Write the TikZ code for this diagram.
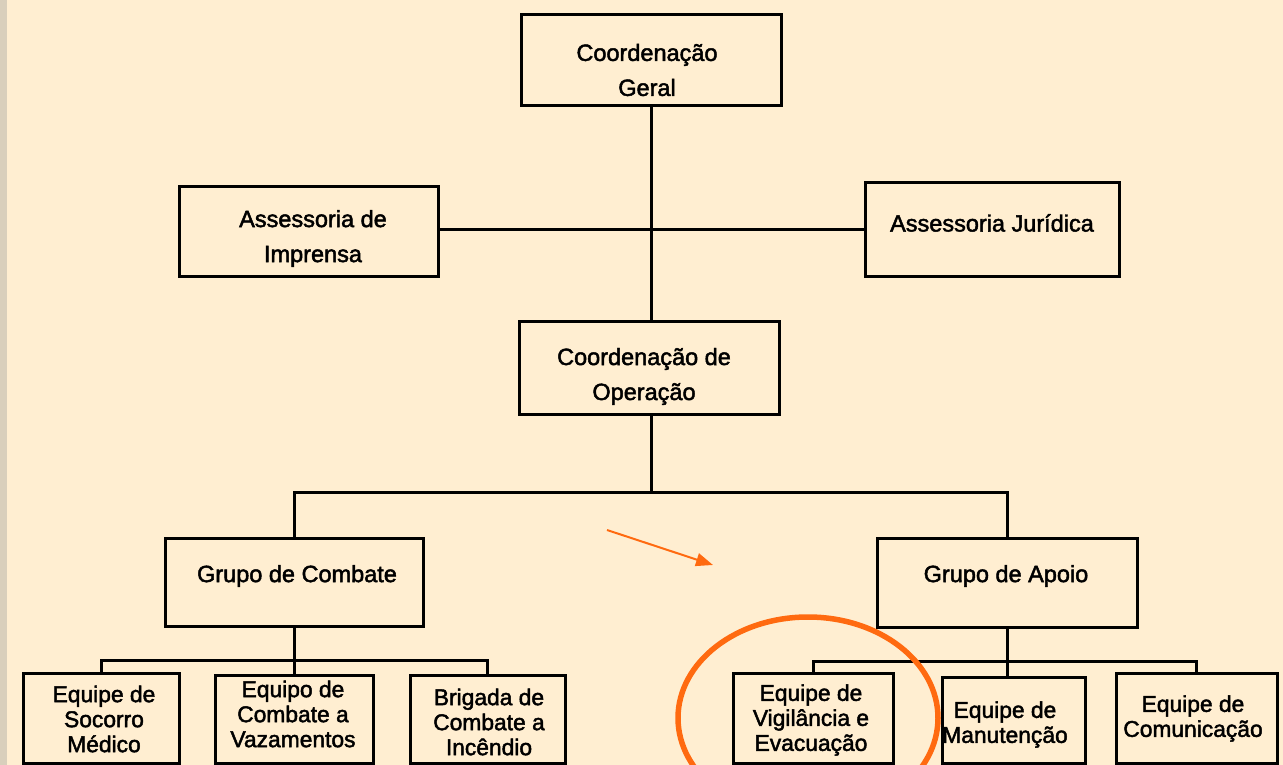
\documentclass[tikz,border=0pt]{standalone}
\usepackage{fontspec}
\setmainfont{Liberation Sans}
\newfontfamily\boxfont{Liberation Sans}[FakeBold=2]
\usetikzlibrary{arrows.meta}
\definecolor{bgc}{HTML}{FFEED1}
\definecolor{edgec}{HTML}{D9CFBC}
\definecolor{orng}{HTML}{FF6A10}
\tikzset{
  box/.style={draw=black, line width=3pt, inner sep=0pt},
  txt/.style={align=center, inner sep=0pt, font=\boxfont\fontsize{23.5}{25}\selectfont},
  txtb/.style={align=center, inner sep=0pt, font=\boxfont\fontsize{22.8}{25}\selectfont},
  conn/.style={line width=3pt, draw=black},
}
\newcommand{\boxat}[5]{\node[box, minimum width={#4-#2}, minimum height={#5-#3}] (#1) at ({(#2+#4)/2},{(#3+#5)/2}) {};}
\begin{document}
\begin{tikzpicture}[x=1pt,y=-1pt]
\useasboundingbox (0,0) rectangle (1283,765);
\clip (0,0) rectangle (1283,765);
\fill[bgc] (0,0) rectangle (1283,765);
\fill[edgec] (0,0) rectangle (7,765);
% boxes
\boxat{cg}{521}{15}{781}{106}
\boxat{ai}{179}{187}{438}{276}
\boxat{aj}{865}{183}{1119}{276}
\boxat{co}{519}{321}{779}{414}
\boxat{gc}{165}{538}{423}{626}
\boxat{ga}{877}{538}{1137}{627}
\boxat{es}{23}{673}{179}{763}
\boxat{ev}{215}{675}{373}{763}
\boxat{bc}{410}{675}{565}{763}
\boxat{vg}{733}{673}{893}{763}
\boxat{mn}{942}{677}{1085}{763}
\boxat{cm}{1116}{673}{1277}{763}
% texts
\node[txt] (tcg) at (647,70) {Coordenação\\[10pt]Geral};
\node[txt] (tai) at (313,238.5) {Assessoria de\\[10pt]Imprensa};
\node[txt] (taj) at (992,223) {Assessoria Jurídica};
\node[txt] (tco) at (644,376.5) {Coordenação de\\[10pt]Operação};
\node[txt] (tgc) at (297,576) {Grupo de Combate};
\node[txt] (tga) at (1006,576) {Grupo de Apoio};
\node[txtb] (tes) at (104,719) {Equipe de\\Socorro\\Médico};
\node[txtb] (tev) at (293,714) {Equipo de\\Combate a\\Vazamentos};
\node[txtb] (tbc) at (489,722) {Brigada de\\Combate a\\Incêndio};
\node[txtb] (tvg) at (811,720) {Equipe de\\Vigilância e\\Evacuação};
\node[txtb] (tmn) at (1005,724.5) {Equipe de\\Manutenção};
\node[txtb] (tcm) at (1193,718.5) {Equipe de\\Comunicação};
% junction coordinates
\coordinate (j1) at (651,229);
\coordinate (j2) at (651,492);
\coordinate (j3) at (296,660);
\coordinate (j4) at (1003,661);
% connectors
\draw[conn] (cg.south) -- (cg.south |- co.north);
\draw[conn] (ai.east |- j1) -- (aj.west |- j1);
\draw[conn] (cg.south |- co.south) -- (j2);
\draw[conn] (gc.north) |- (j2) -| (ga.north);
\draw[conn] (gc.south) -- (gc.south |- ev.north);
\draw[conn] (es.north) |- (j3) -| (bc.north);
\draw[conn] (ga.south) -- (ga.south |- mn.north);
\draw[conn] (vg.north) |- (j4) -| (cm.north);
% annotations
\coordinate (a1) at (607,530);
\coordinate (a2) at (713,565);
\draw[orng, line width=2pt, -{Triangle[length=17pt,width=13pt]}] (a1) -- (a2);
\draw[orng, line width=5.5pt] (808,718) ellipse [x radius=130, y radius=101];
\end{tikzpicture}
\end{document}
